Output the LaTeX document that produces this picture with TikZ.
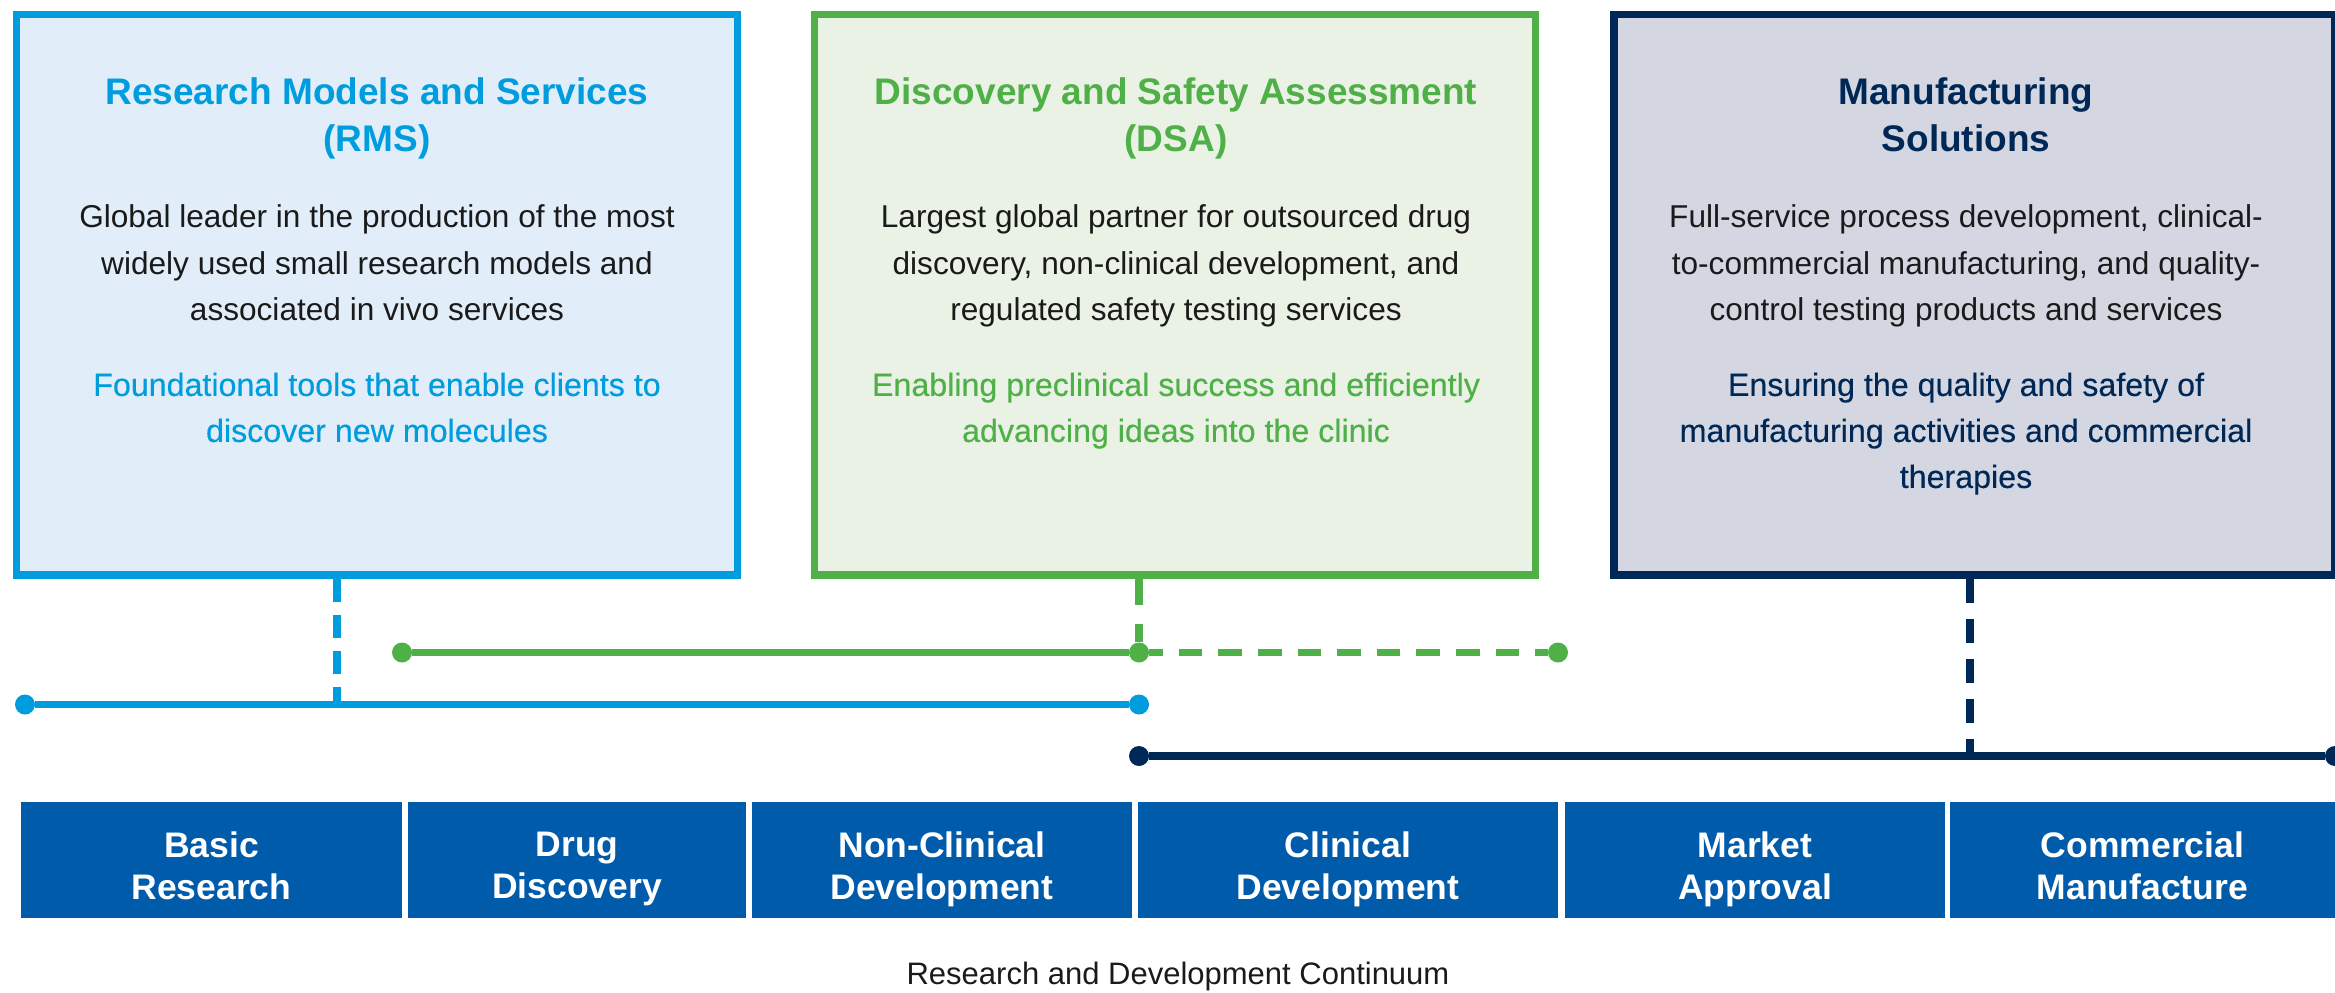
\documentclass[tikz,border=0pt]{standalone}
\usepackage{fontspec}
\setmainfont{Liberation Sans}
\newfontfamily\medfont{Liberation Sans}[FakeBold=0.35]
\usepackage{xcolor}
\usepackage{tikz}
\definecolor{rmsblue}{RGB}{0,157,222}
\definecolor{rmsfill}{RGB}{225,238,249}
\definecolor{dsagreen}{RGB}{80,176,72}
\definecolor{dsafill}{RGB}{234,242,230}
\definecolor{msnavy}{RGB}{0,40,86}
\definecolor{msfill}{RGB}{212,215,226}
\definecolor{stageblue}{RGB}{0,91,170}
\definecolor{bodytext}{RGB}{26,26,26}
\tikzset{
    BX/.style ={rectangle,minimum width = 721pt, minimum height = 560.5pt, line width=7.5pt, draw},
    ST/.style ={rectangle,minimum height = 116pt, inner sep=0pt, fill=stageblue},
    STT/.style ={anchor=north, inner sep=0pt, align=center, text=white, font={\fontsize{35.5}{42}\selectfont\bfseries}},
    TT/.style ={anchor=north, inner sep=0pt, align=center, font={\fontsize{37}{47}\selectfont\bfseries}},
    BD/.style ={anchor=north, inner sep=0pt, align=center, text=bodytext, font={\fontsize{31.6}{46.5}\selectfont}},
    SB/.style ={anchor=north, inner sep=0pt, align=center, font={\medfont\fontsize{32.2}{46}\selectfont}},
    DT/.style ={circle, minimum size=20pt, inner sep=0pt},
    LN/.style={line width=7.5pt},
    DL/.style={line width=7.5pt, dash pattern=on 24pt off 16pt}
}

\begin{document}
\begin{tikzpicture}[x=1pt,y=-1pt]
        \useasboundingbox (0,0) rectangle (2335,993);
        % segment boxes
        \node[BX, draw=rmsblue, fill=rmsfill](rms) at (376.75,294.75) {};
        \node[BX, draw=dsagreen, fill=dsafill](dsa) at (1174.75,294.75) {};
        \node[BX, draw=msnavy, fill=msfill](ms) at (1974.5,294.75) {};
        \node[TT, text=rmsblue](rmst) at (377,77.5) {Research Models and Services\\(RMS)};
        \node[BD](rmsb) at (377,204.4) {Global leader in the production of the most\\widely used small research models and\\associated in vivo services};
        \node[SB, text=rmsblue](rmss) at (377,372.4) {Foundational tools that enable clients to\\discover new molecules};
        \node[TT, text=dsagreen](dsat) at (1176,77.5) {Discovery and Safety Assessment\\(DSA)};
        \node[BD](dsab) at (1176,204.4) {Largest global partner for outsourced drug\\discovery, non-clinical development, and\\regulated safety testing services};
        \node[SB, text=dsagreen](dsas) at (1176,372.4) {Enabling preclinical success and efficiently\\advancing ideas into the clinic};
        \node[TT, text=msnavy](mst) at (1966,77.5) {Manufacturing\\Solutions};
        \node[BD](msb) at (1966,204.4) {Full-service process development, clinical-\\to-commercial manufacturing, and quality-\\control testing products and services};
        \node[SB, text=msnavy](mss) at (1966,372.4) {Ensuring the quality and safety of\\manufacturing activities and commercial\\therapies};
        % coverage lines
        \node[DT, fill=dsagreen](g1) at (402,652.5) {};
        \node[DT, fill=dsagreen](g2) at (1139,652.5) {};
        \node[DT, fill=dsagreen](g3) at (1558,652.5) {};
        \node[DT, fill=rmsblue](b1) at (25,704.5) {};
        \node[DT, fill=rmsblue](b2) at (1139,704.5) {};
        \node[DT, fill=msnavy](n1) at (1139,756) {};
        \node[DT, fill=msnavy](n2) at (2335,756) {};
        \coordinate (bj) at (337,704.5);
        \coordinate (nj) at (1970,756);
        \draw[LN, rmsblue] (b1) -- (b2);
        \draw[DL, rmsblue, dash pattern=on 23pt off 13pt] (rms.south -| bj) -- (bj);
        \draw[LN, dsagreen] (g1) -- (g2);
        \draw[DL, dsagreen, dash pattern=on 26pt off 19pt] (dsa.south -| g2) -- (g2);
        \draw[DL, dsagreen, dash pattern=on 23.6pt off 16pt, dash phase=10pt] (g2) -- (g3);
        \draw[LN, msnavy] (n1) -- (n2);
        \draw[DL, msnavy] (ms.south -| nj) -- (nj);
        % stages
        \node[ST, minimum width=381pt](s1) at (211.5,860) {};
        \node[ST, minimum width=338pt](s2) at (577,860) {};
        \node[ST, minimum width=380pt](s3) at (942,860) {};
        \node[ST, minimum width=420pt](s4) at (1348,860) {};
        \node[ST, minimum width=380pt](s5) at (1755,860) {};
        \node[ST, minimum width=385pt](s6) at (2142.5,860) {};
        \node[STT](s1t) at (211.5,831.6) {Basic\\Research};
        \node[STT](s2t) at (577,831.6) {Drug\\Discovery};
        \node[STT](s3t) at (942,831.6) {Non-Clinical\\Development};
        \node[STT](s4t) at (1348,831.6) {Clinical\\Development};
        \node[STT](s5t) at (1755,831.6) {Market\\Approval};
        \node[STT](s6t) at (2142.5,831.6) {Commercial\\Manufacture};
        \node[anchor=base, inner sep=0pt, text=bodytext, font={\fontsize{31}{36}\selectfont}](cont) at (1178,984) {Research and Development Continuum};
    \end{tikzpicture}
\end{document}
